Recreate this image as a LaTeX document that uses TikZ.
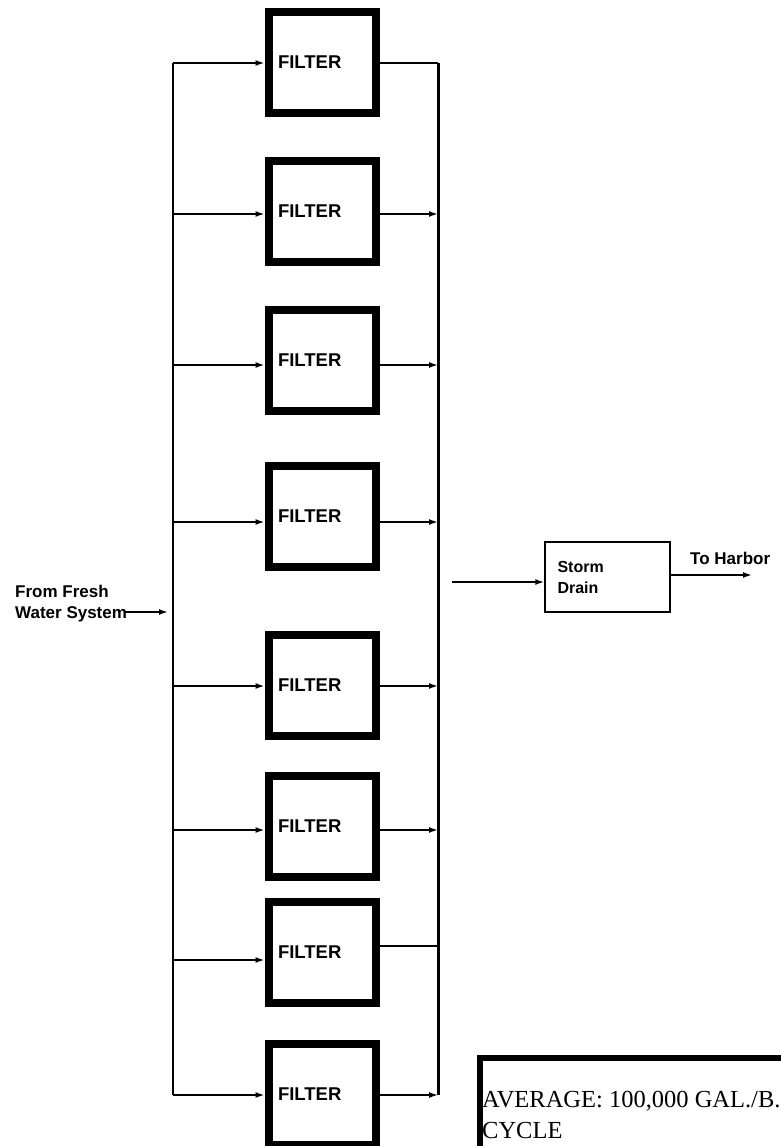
\documentclass[tikz,border=0pt]{standalone}
\usepackage{fontspec}
\setmainfont{Liberation Serif}
\setsansfont{Liberation Sans}
\usepackage{tikz}
\usetikzlibrary{arrows.meta}
\usetikzlibrary{calc}

\begin{document}
\begin{tikzpicture}[x=1pt,y=-1pt,
	filter/.style={draw,line width=8pt,minimum width=107pt,minimum height=101pt,
		text width=88pt,align=left,font=\sffamily\bfseries\fontsize{18.5}{20}\selectfont},
	pipe/.style={line width=1.6pt},
	flow/.style={pipe,-{Latex[length=9pt,width=6pt]}},
	lbl/.style={font=\sffamily\bfseries\fontsize{17}{20.5}\selectfont,align=left,inner sep=0pt}]
\useasboundingbox (0,0) rectangle (781,1146);
\foreach \n/\y/\yi/\yo/\tip in {1/62/63/63/pipe, 2/211/214/214/flow, 3/360/365/365/flow,
	4/516/522/522/flow, 5/685/686/686/flow, 6/826/830/830/flow,
	7/952/960/946/pipe, 8/1094/1095/1095/flow} {
	\node[filter] (f\n) at (322,\y) {FILTER};
	\coordinate (in\n) at (173,\yi);
	\coordinate (out\n) at (438,\yo);
	\draw[flow] (in\n) -- (in\n -| f\n.west);
	\draw[\tip] (f\n.east |- out\n) -- (out\n);
}
\draw[pipe] (in1) -- (in8);
\draw[line width=3pt] (out1) -- (out8);
\node[lbl,anchor=north west] (fresh) at (15,585) {From Fresh\\Water System};
\coordinate (inlet) at (168,612);
\draw[flow] (125,612) -- (inlet);
\node[draw,line width=1.5pt,minimum width=125pt,minimum height=70pt,text width=100pt,
	align=left,font=\sffamily\bfseries\fontsize{16}{21}\selectfont] (storm) at (607.5,577) {Storm\\Drain};
\coordinate (src) at (452,582);
\draw[flow] (src) -- (src -| storm.west);
\coordinate (harbor) at (752,575);
\draw[flow] (storm.east |- harbor) -- (harbor);
\node[lbl,anchor=south west] (toharbor) at (690,565) {To Harbor};
\draw[line width=6pt] (480,1200) |- (800,1058);
\node[anchor=north west,inner sep=0pt,align=left,font=\fontsize{24.5}{31}\selectfont] (avg) at (482,1091)
	{AVERAGE: 100,000 GAL./B.\\CYCLE};
\end{tikzpicture}
\end{document}
